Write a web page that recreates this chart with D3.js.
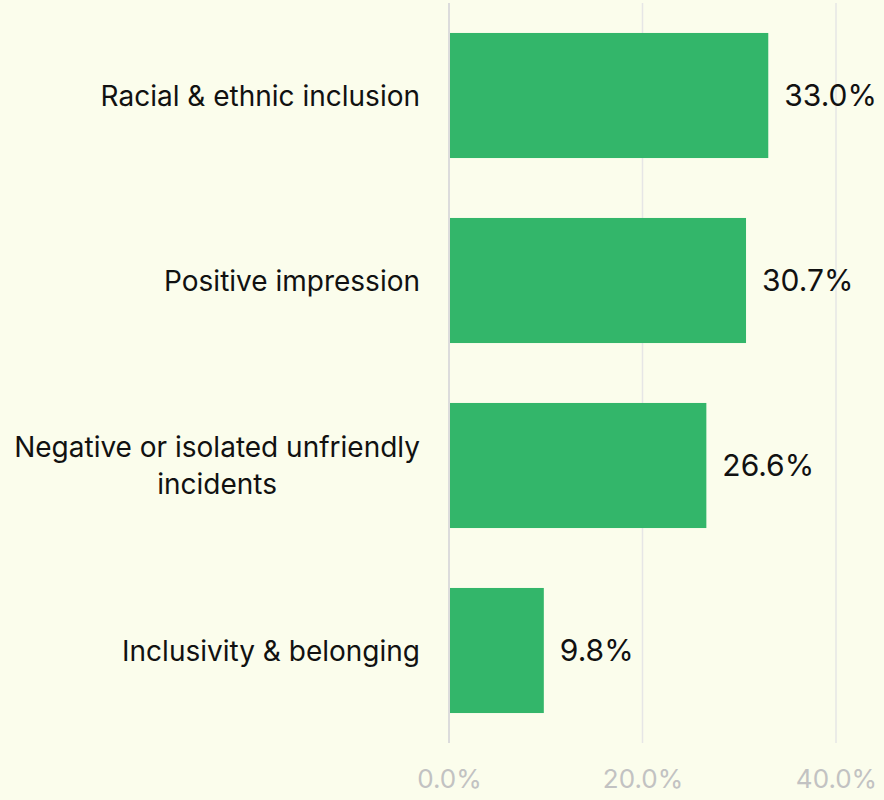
<!DOCTYPE html>
<html><head><meta charset="utf-8">
<script src="https://cdn.jsdelivr.net/npm/d3@7"></script>
<style>
html,body{margin:0;padding:0;background:#fbfdec;}
svg{display:block;}
text{font-family:Inter, "Noto Sans", sans-serif;}
</style></head>
<body>
<script>
const categories = ["Racial & ethnic inclusion", "Positive impression", "Negative or isolated unfriendly incidents", "Inclusivity & belonging"];
const labelLines = [["Racial & ethnic inclusion"], ["Positive impression"], ["Negative or isolated unfriendly", "incidents"], ["Inclusivity & belonging"]];
const values = [33.0, 30.7, 26.6, 9.8];
const tickValues = [0, 20, 40];

const W = 884, H = 800;
const svg = d3.select("body").append("svg").attr("width", W).attr("height", H);
svg.append("rect").attr("width", W).attr("height", H).attr("fill", "#fbfdec");

const x = d3.scaleLinear().domain([0, 40]).range([449, 836]);
const y = d3.scaleBand().domain(categories).range([3, 743]).paddingInner(0.324).paddingOuter(0.162);

// gridlines
svg.append("g").selectAll("line").data(tickValues.slice(1)).join("line")
  .attr("x1", d => x(d)).attr("x2", d => x(d)).attr("y1", 3).attr("y2", 743)
  .attr("stroke", "#e6e6e6").attr("stroke-width", 1.5);

// bars
svg.append("g").selectAll("rect").data(values).join("rect")
  .attr("x", x(0)).attr("y", (d, i) => y(categories[i]))
  .attr("width", d => x(d) - x(0)).attr("height", y.bandwidth())
  .attr("fill", "#33b66a");

// zero axis line
svg.append("line").attr("x1", x(0)).attr("x2", x(0)).attr("y1", 3).attr("y2", 743)
  .attr("stroke", "#dcdcdc").attr("stroke-width", 2);

// x axis ticks
const xAxis = d3.axisBottom(x).tickValues(tickValues).tickFormat(d => d3.format(".1f")(d) + "%").tickSize(0).tickPadding(0);
const gx = svg.append("g").attr("transform", "translate(0,788)").call(xAxis);
gx.select(".domain").remove();
gx.selectAll("text").attr("fill", "#c2c2c2").attr("font-size", 26).attr("font-family", "Inter, 'Noto Sans', sans-serif").attr("dy", "0");

// value labels
svg.append("g").selectAll("text").data(values).join("text")
  .attr("x", d => x(d) + 16).attr("y", (d, i) => y(categories[i]) + y.bandwidth() / 2)
  .attr("dy", "0.36em").attr("font-size", 30).attr("fill", "#111")
  .text(d => d3.format(".1f")(d) + "%");

// category labels
const rightEdge = 420, lineH = 37;
categories.forEach((c, i) => {
  const lines = labelLines[i];
  const g = svg.append("g");
  const cy = y(c) + y.bandwidth() / 2;
  const texts = lines.map((l, j) => g.append("text")
    .attr("font-size", 28).attr("fill", "#111")
    .attr("y", cy + (j - (lines.length - 1) / 2) * lineH).attr("dy", "0.36em")
    .text(l));
  const maxW = d3.max(texts, t => t.node().getComputedTextLength());
  texts.forEach(t => t.attr("text-anchor", "middle").attr("x", rightEdge - maxW / 2));
});
</script>
</body></html>
